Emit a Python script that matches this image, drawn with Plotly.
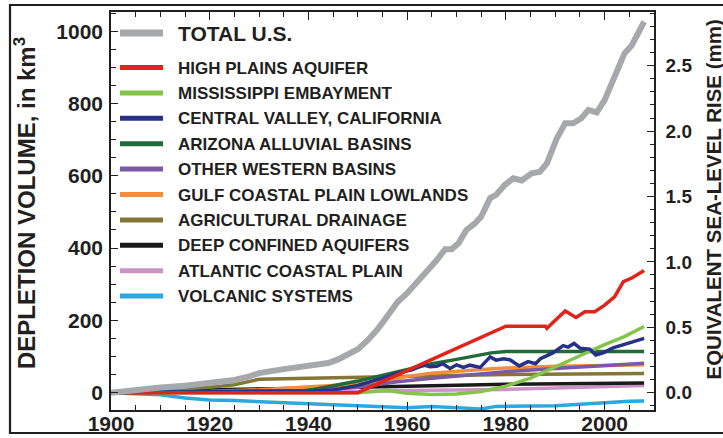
import plotly.graph_objects as go

# ---------------- data: cumulative groundwater depletion, km^3 ----------------
TOTAL_YEARS = [1900, 1905, 1910, 1915, 1920, 1925, 1928, 1930, 1935, 1940, 1944, 1946, 1948,
               1950, 1952, 1954, 1956, 1958, 1960, 1962, 1964, 1966, 1967.7, 1969, 1970.4,
               1972, 1973.7, 1975, 1976.8, 1978, 1979.8, 1981.5, 1983.2, 1985.2, 1986.9,
               1988.3, 1990.3, 1992, 1993.6, 1995.3, 1996.7, 1998.4, 2000, 2001.7, 2004,
               2005.5, 2008]
TOTAL_VOL = [0, 8, 14, 19, 26, 35, 45, 54, 65, 74, 82, 92, 106,
             120, 145, 175, 212, 250, 275, 305, 335, 367, 397, 397, 413,
             450, 468, 487, 538, 547, 575, 593, 587, 607, 611,
             634, 703, 745, 745, 759, 782, 775, 809, 860, 938,
             961, 1026]

HIGH_PLAINS_YEARS = [1900, 1950, 1980, 1988, 1988.3, 1992, 1994.2, 1996, 1998, 2000, 2002,
                     2003.8, 2005.5, 2008]
HIGH_PLAINS_VOL = [0, 0, 184, 184, 178, 226, 208, 224, 224, 242, 265, 307, 317, 338]

MISSISSIPPI_YEARS = [1900, 1950, 1956, 1960, 1965, 1970, 1975, 1980, 1985, 1990, 1995,
                     2000, 2004, 2008]
MISSISSIPPI_VOL = [0, 0, 6, -2, -5, -4, 3, 18, 40, 70, 102, 133, 155, 183]

CENTRAL_VALLEY_YEARS = [1900, 1920, 1940, 1945, 1950, 1955, 1958, 1961, 1963.3, 1964.6,
                        1966, 1967.2, 1968.7, 1970, 1971.4, 1972.7, 1974.8, 1976.8, 1978,
                        1979.5, 1980.8, 1982.7, 1984.5, 1986, 1987, 1989.5, 1991.6, 1992.6,
                        1993.8, 1995, 1997, 1998.2, 1999.7, 2001.7, 2003, 2008]
CENTRAL_VALLEY_VOL = [0, 2, 4, 7, 20, 40, 54, 63, 77, 72, 73, 80, 67, 77, 70, 76, 70, 99, 90,
                      94, 91, 74, 86, 80, 94, 110, 130, 126, 136, 123, 120, 104, 110, 124,
                      129, 150]

ARIZONA_YEARS = [1900, 1940, 1950, 1958.6, 1965, 1970, 1977, 1980, 2008]
ARIZONA_VOL = [0, 6, 32, 59, 80, 92, 110, 114, 114]

OTHER_WEST_YEARS = [1900, 1940, 1950, 1958, 1965, 1970, 1975, 1980, 1990, 2000, 2008]
OTHER_WEST_VOL = [0, 5, 15, 30, 40, 46, 53, 58, 67, 75, 81]

GULF_YEARS = [1900, 1920, 1930, 1940, 1945, 1950, 1955, 1960, 1965, 1970, 1975, 1980, 1990,
              2000, 2008]
GULF_VOL = [0, 3, 8, 15, 19, 24, 31, 45, 54, 60, 64, 68, 73, 75, 77]

AG_DRAIN_YEARS = [1900, 1910, 1920, 1925, 1930, 1940, 1960, 1980, 2008]
AG_DRAIN_VOL = [0, 8, 15, 22, 37, 40, 45, 50, 53]

DEEP_YEARS = [1900, 1910, 1920, 1940, 1960, 1980, 2008]
DEEP_VOL = [0, 5, 8, 12, 18, 23, 27]

ATLANTIC_YEARS = [1900, 1940, 1950, 1960, 1970, 1980, 1990, 2000, 2008]
ATLANTIC_VOL = [0, 1, 3, 6, 7, 9, 13, 16, 20]

VOLCANIC_YEARS = [1900, 1905, 1910, 1915, 1920, 1925, 1930, 1935, 1940, 1945, 1950, 1955,
                  1958, 1960, 1965, 1970, 1975, 1978, 1985, 1990, 1995, 2000, 2005, 2008]
VOLCANIC_VOL = [0, -3, -6, -15, -20, -22, -25, -27, -31, -34, -37, -40, -43, -42, -38, -42,
                -45, -38, -38, -36, -32, -27, -24, -23]

KM3_PER_MM = 361.8          # ocean-area conversion, km^3 of water per mm of sea level
Y_RANGE = [-48, 1053]
X_RANGE = [1900, 2010]

# (legend label, years, volumes, colour, plotted line width)
SERIES = [
    ("TOTAL U.S.", TOTAL_YEARS, TOTAL_VOL, "#a6a8ab", 6),
    ("HIGH PLAINS AQUIFER", HIGH_PLAINS_YEARS, HIGH_PLAINS_VOL, "#e2231a", 3.5),
    ("MISSISSIPPI EMBAYMENT", MISSISSIPPI_YEARS, MISSISSIPPI_VOL, "#84c44a", 3.5),
    ("CENTRAL VALLEY, CALIFORNIA", CENTRAL_VALLEY_YEARS, CENTRAL_VALLEY_VOL, "#283089", 3.5),
    ("ARIZONA ALLUVIAL BASINS", ARIZONA_YEARS, ARIZONA_VOL, "#216a3a", 3.5),
    ("OTHER WESTERN BASINS", OTHER_WEST_YEARS, OTHER_WEST_VOL, "#7d58a3", 3.5),
    ("GULF COASTAL PLAIN LOWLANDS", GULF_YEARS, GULF_VOL, "#f58c3e", 3.5),
    ("AGRICULTURAL DRAINAGE", AG_DRAIN_YEARS, AG_DRAIN_VOL, "#857637", 3.5),
    ("DEEP CONFINED AQUIFERS", DEEP_YEARS, DEEP_VOL, "#1b1a1a", 3.5),
    ("ATLANTIC COASTAL PLAIN", ATLANTIC_YEARS, ATLANTIC_VOL, "#cc92c6", 3.5),
    ("VOLCANIC SYSTEMS", VOLCANIC_YEARS, VOLCANIC_VOL, "#2ba8df", 3.5),
]

# drawing order: regional series first, the national total on top
DRAW_ORDER = [10, 9, 8, 7, 6, 5, 4, 2, 3, 1, 0]

# ---------------- layout geometry (pixels) ----------------
W, H = 723, 438
ML, MR, MT, MB = 111, 69, 12, 28
PW, PH = W - ML - MR, H - MT - MB
FONT = "Liberation Sans, Arial, Helvetica, sans-serif"
INK = "#231f20"


def px(x):
    return (x - ML) / PW


def py(y):
    return (H - MB - y) / PH


fig = go.Figure()
for i in DRAW_ORDER:
    name, yrs, vals, col, lw = SERIES[i]
    fig.add_trace(go.Scatter(x=yrs, y=vals, mode="lines", name=name,
                             line=dict(color=col, width=lw), showlegend=False))

# the total series again on the sea-level axis (hidden), so that axis is scaled from data
fig.add_trace(go.Scatter(x=TOTAL_YEARS, y=[v / KM3_PER_MM for v in TOTAL_VOL], yaxis="y2",
                         mode="lines", line=dict(width=0), opacity=0,
                         showlegend=False, hoverinfo="skip"))

shapes = []
annotations = []

# hand-placed key
row_y = [33] + [67.5 + 25.4 * k for k in range(len(SERIES) - 1)]
for k, (name, yrs, vals, col, lw) in enumerate(SERIES):
    yy = row_y[k]
    shapes.append(dict(type="line", xref="paper", yref="paper",
                       x0=px(120), x1=px(163), y0=py(yy), y1=py(yy),
                       line=dict(color=col, width=7 if k == 0 else 5)))
    annotations.append(dict(text=name, xref="paper", yref="paper",
                            x=px(176), y=py(yy + 0.5), xanchor="left", yanchor="middle",
                            showarrow=False,
                            font=dict(family=FONT, size=21 if k == 0 else 17,
                                      weight="bold", color=INK)))

# outer frame
shapes.append(dict(type="rect", xref="paper", yref="paper",
                   x0=px(10), x1=px(725), y0=py(433), y1=py(5),
                   line=dict(color=INK, width=2.2), layer="above"))

# axis titles
annotations.append(dict(text="DEPLETION VOLUME, in km<sup>3</sup>", xref="paper", yref="paper",
                        x=px(25), y=py(203), xanchor="center", yanchor="middle",
                        textangle=-90, showarrow=False,
                        font=dict(family=FONT, size=24, weight="bold", color=INK)))
annotations.append(dict(text="EQUIVALENT SEA-LEVEL RISE (mm)", xref="paper", yref="paper",
                        x=px(712.5), y=py(200), xanchor="center", yanchor="middle",
                        textangle=-90, showarrow=False,
                        font=dict(family=FONT, size=20.5, weight="bold", color=INK)))

tickfont = dict(family=FONT, size=21, weight="bold", color=INK)

fig.update_layout(
    width=W, height=H,
    margin=dict(l=ML, r=MR, t=MT, b=MB, pad=0, autoexpand=False),
    paper_bgcolor="white", plot_bgcolor="white",
    showlegend=False,
    shapes=shapes, annotations=annotations,
    xaxis=dict(range=X_RANGE, tick0=1900, dtick=20, showgrid=False, zeroline=False,
               automargin=False,
               showline=True, linecolor=INK, linewidth=1.5, mirror="ticks",
               ticks="inside", ticklen=8, tickwidth=1.3, tickcolor=INK,
               minor=dict(dtick=5, ticks="inside", ticklen=5, tickwidth=1.2, tickcolor=INK),
               tickfont=tickfont, ticklabelstandoff=-6),
    yaxis=dict(range=Y_RANGE, tick0=0, dtick=200, showgrid=False, zeroline=False,
               automargin=False,
               showline=True, linecolor=INK, linewidth=1.5,
               ticks="inside", ticklen=7, tickwidth=1.3, tickcolor=INK,
               minor=dict(dtick=50, ticks="inside", ticklen=5, tickwidth=1.2, tickcolor=INK),
               tickfont=tickfont, ticklabelstandoff=2),
    yaxis2=dict(range=[v / KM3_PER_MM for v in Y_RANGE], overlaying="y", side="right",
                automargin=False,
                tick0=0, dtick=0.5, tickformat=".1f", showgrid=False, zeroline=False,
                showline=True, linecolor=INK, linewidth=1.5,
                ticks="inside", ticklen=7, tickwidth=1.3, tickcolor=INK,
                minor=dict(dtick=0.1, ticks="inside", ticklen=4, tickwidth=1.2, tickcolor=INK),
                tickfont=dict(family=FONT, size=19, weight="bold", color=INK),
                ticklabelstandoff=6),
)

fig.write_html("out.html")
